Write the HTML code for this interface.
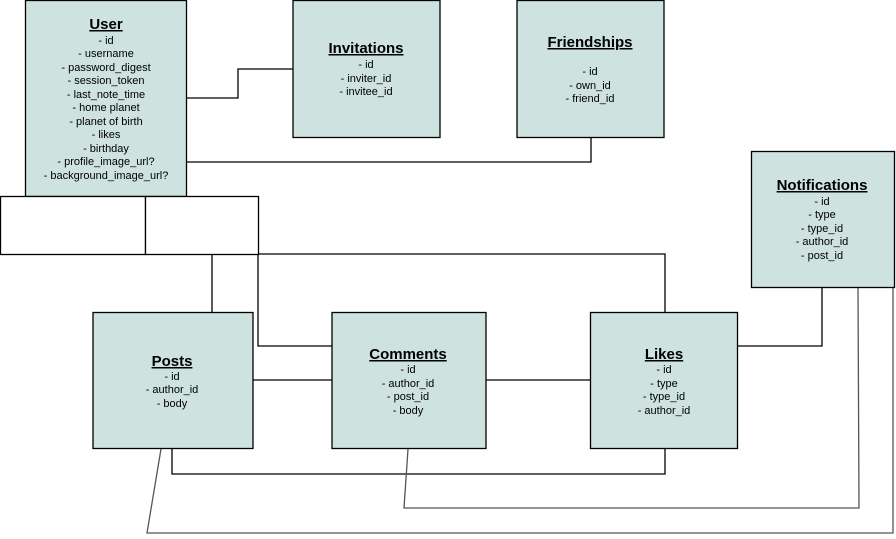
<!DOCTYPE html>
<html><head><meta charset="utf-8"><style>
html,body{margin:0;padding:0;background:#fff;}
svg{display:block;}
text{font-family:"Liberation Sans",Arial,sans-serif;fill:#000;text-anchor:middle;}
.t{font-weight:bold;font-size:15px;text-decoration:underline;}
.f{font-size:11px;}
</style></head><body>
<svg width="896" height="539" viewBox="0 0 896 539" xmlns="http://www.w3.org/2000/svg">
<g fill="none" stroke="#000" stroke-width="1.3">
<polyline points="186,98 238,98 238,69 293,69"/>
<polyline points="186,162 591,162 591,137"/>
<polyline points="212,254 212,312"/>
<polyline points="258,254 258,346 332,346"/>
<polyline points="258,254 665,254 665,312"/>
<polyline points="253,380 332,380"/>
<polyline points="486,380 590,380"/>
<polyline points="738,346 822,346 822,287"/>
<polyline points="172,449 172,474 665,474 665,449"/>
</g>
<g fill="none" stroke="#555" stroke-width="1.3">
<polyline points="408,449 404,508 859,508 858,287"/>
<polyline points="161,449 147,533 893,533 893,287"/>
</g>
<g fill="#cee3df" stroke="#000" stroke-width="1.3">
<rect x="25.5" y="0.5" width="161" height="196"/>
<rect x="293" y="0.5" width="147" height="137"/>
<rect x="517" y="0.5" width="147" height="137"/>
<rect x="751.5" y="151.5" width="143" height="136"/>
<rect x="93" y="312.5" width="160" height="136"/>
<rect x="332" y="312.5" width="154" height="136"/>
<rect x="590.5" y="312.5" width="147" height="136"/>
</g>
<g fill="#fff" stroke="#000" stroke-width="1.3">
<rect x="0.5" y="196.5" width="145" height="58"/>
<rect x="145.5" y="196.5" width="113" height="58"/>
</g>
<text class="t" x="106" y="29">User</text>
<g class="f">
<text x="106" y="44">- id</text>
<text x="106" y="57">- username</text>
<text x="106" y="71">- password_digest</text>
<text x="106" y="84">- session_token</text>
<text x="106" y="98">- last_note_time</text>
<text x="106" y="111">- home planet</text>
<text x="106" y="125">- planet of birth</text>
<text x="106" y="138">- likes</text>
<text x="106" y="152">- birthday</text>
<text x="106" y="165">- profile_image_url?</text>
<text x="106" y="179">- background_image_url?</text>
</g>
<text class="t" x="366" y="53">Invitations</text>
<g class="f">
<text x="366" y="68">- id</text>
<text x="366" y="82">- inviter_id</text>
<text x="366" y="95">- invitee_id</text>
</g>
<text class="t" x="590" y="47">Friendships</text>
<g class="f">
<text x="590" y="75">- id</text>
<text x="590" y="89">- own_id</text>
<text x="590" y="102">- friend_id</text>
</g>
<text class="t" x="822" y="190">Notifications</text>
<g class="f">
<text x="822" y="205">- id</text>
<text x="822" y="218">- type</text>
<text x="822" y="232">- type_id</text>
<text x="822" y="245">- author_id</text>
<text x="822" y="259">- post_id</text>
</g>
<text class="t" x="172" y="366">Posts</text>
<g class="f">
<text x="172" y="380">- id</text>
<text x="172" y="393">- author_id</text>
<text x="172" y="407">- body</text>
</g>
<text class="t" x="408" y="359">Comments</text>
<g class="f">
<text x="408" y="373">- id</text>
<text x="408" y="387">- author_id</text>
<text x="408" y="400">- post_id</text>
<text x="408" y="414">- body</text>
</g>
<text class="t" x="664" y="359">Likes</text>
<g class="f">
<text x="664" y="373">- id</text>
<text x="664" y="387">- type</text>
<text x="664" y="400">- type_id</text>
<text x="664" y="414">- author_id</text>
</g>
</svg>
</body></html>
